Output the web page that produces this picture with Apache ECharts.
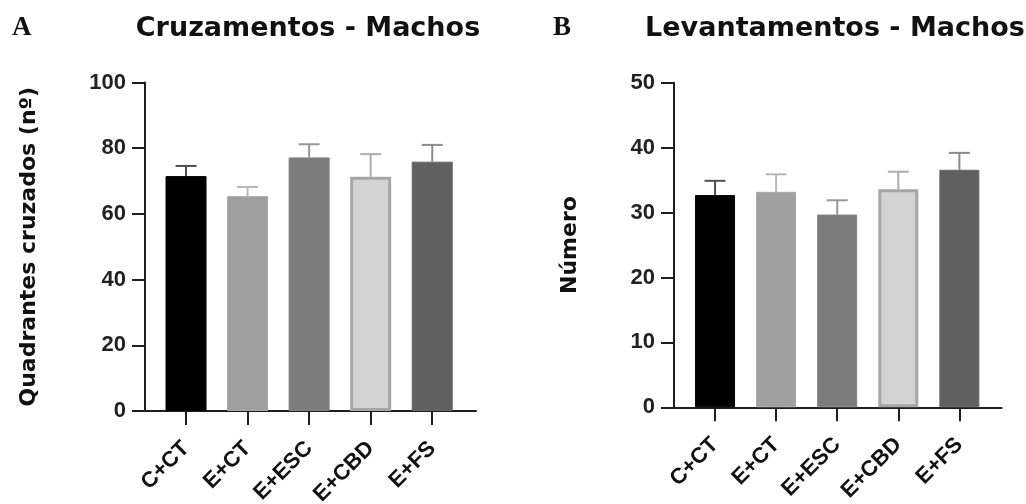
<!DOCTYPE html>
<html>
<head>
<meta charset="utf-8">
<script src="https://cdn.jsdelivr.net/npm/echarts@6/dist/echarts.min.js"></script>
<style>
  html, body { margin: 0; padding: 0; background: #ffffff; }
  #chart { width: 1026px; height: 504px; }
</style>
</head>
<body>
<div id="chart"></div>
<script>
// ---- Data ----
const categories = ['C+CT', 'E+CT', 'E+ESC', 'E+CBD', 'E+FS'];
const crossMean  = [71.5, 65.4, 77.2, 71.3, 75.9];
const crossUpper = [74.6, 68.2, 81.2, 78.2, 81.0];
const rearMean   = [32.7, 33.2, 29.7, 33.6, 36.6];
const rearUpper  = [34.9, 35.9, 31.9, 36.3, 39.2];
const titleA = 'Cruzamentos - Machos';
const titleB = 'Levantamentos - Machos';
const yNameA = 'Quadrantes cruzados (nº)';
const yNameB = 'Número';

// ---- Styles ----
const barFill   = ['#000000', '#a0a0a0', '#7c7c7c', '#d3d3d3', '#606060'];
const barBorder = ['#000000', '#a6a6a6', '#828282', '#a6a6a6', '#666666'];
const barBorderW = [1, 1, 1, 3, 1];
const errColor  = ['#505050', '#b6b6b6', '#979797', '#adadad', '#8b8b8b'];
const axisColor = '#1e1e1e';
const sansBold = 'DejaVu Sans';
const tickFont = 'Liberation Sans';

function barData(means) {
  return means.map((v, i) => ({
    value: v,
    itemStyle: { color: barFill[i], borderColor: barBorder[i], borderWidth: barBorderW[i] }
  }));
}
function errData(means, uppers) {
  return means.map((v, i) => [i, v, uppers[i]]);
}
function renderErr(params, api) {
  const x = api.value(0);
  const lo = api.coord([x, api.value(1)]);
  const hi = api.coord([x, api.value(2)]);
  const c = errColor[params.dataIndex];
  return {
    type: 'group',
    children: [
      { type: 'line', shape: { x1: lo[0], y1: lo[1], x2: hi[0], y2: hi[1] }, style: { stroke: c, lineWidth: 2 } },
      { type: 'line', shape: { x1: hi[0] - 10.5, y1: hi[1], x2: hi[0] + 10.5, y2: hi[1] }, style: { stroke: c, lineWidth: 2 } }
    ]
  };
}

function frameAxes(gridIdx, max, interval, name, nameGap) {
  return {
    x: {
      type: 'category', gridIndex: gridIdx, data: categories,
      axisLine: { show: true, lineStyle: { color: axisColor, width: 2 } },
      axisTick: { show: false }, axisLabel: { show: false }, splitLine: { show: false }
    },
    y: {
      type: 'value', gridIndex: gridIdx, min: 0, max: max, interval: interval,
      name: name, nameLocation: 'middle', nameRotate: 90, nameGap: nameGap,
      nameTextStyle: { fontFamily: sansBold, fontWeight: 'bold', fontSize: 22, color: '#111' },
      axisLine: { show: true, lineStyle: { color: axisColor, width: 2 } },
      axisTick: { show: true, inside: false, length: 13, lineStyle: { color: axisColor, width: 2 } },
      axisLabel: { fontFamily: tickFont, fontWeight: 'bold', fontSize: 22, color: '#222', margin: 19 },
      splitLine: { show: false }
    }
  };
}
function barAxes(gridIdx, max) {
  return {
    x: {
      type: 'category', gridIndex: gridIdx, data: categories,
      axisLine: { show: true, lineStyle: { color: 'rgba(0,0,0,0)', width: 0 } },
      axisTick: { show: true, inside: false, alignWithLabel: true, length: 14, lineStyle: { color: axisColor, width: 2 } },
      axisLabel: { rotate: 45, margin: 34, fontFamily: tickFont, fontWeight: 'bold', fontSize: 22, color: '#111' },
      splitLine: { show: false }
    },
    y: { type: 'value', gridIndex: gridIdx, min: 0, max: max, show: false, splitLine: { show: false } }
  };
}

const fA = frameAxes(0, 100, 20, yNameA, 105);
const bA = barAxes(1, 100);
const fB = frameAxes(2, 50, 10, yNameB, 93);
const bB = barAxes(3, 50);

const chart = echarts.init(document.getElementById('chart'), null, { renderer: 'canvas' });
chart.setOption({
  backgroundColor: '#ffffff',
  animation: false,
  title: [
    { text: 'A', left: 12, top: 15, padding: 0,
      textStyle: { fontFamily: 'Liberation Serif', fontWeight: 'bold', fontSize: 27, color: '#111' } },
    { text: titleA, left: 308, top: 15, padding: 0, textAlign: 'center',
      textStyle: { fontFamily: sansBold, fontWeight: 'bold', fontSize: 27, color: '#111' } },
    { text: 'B', left: 553, top: 15, padding: 0,
      textStyle: { fontFamily: 'Liberation Serif', fontWeight: 'bold', fontSize: 27, color: '#111' } },
    { text: titleB, left: 835, top: 15, padding: 0, textAlign: 'center',
      textStyle: { fontFamily: sansBold, fontWeight: 'bold', fontSize: 27, color: '#111' } }
  ],
  grid: [
    { left: 145, top: 82.5, width: 331, height: 328.5, containLabel: false, outerBoundsMode: 'none' },
    { left: 155.25, top: 82.5, width: 307.75, height: 328.5, containLabel: false, outerBoundsMode: 'none' },
    { left: 674, top: 82.8, width: 327.7, height: 324.5, containLabel: false, outerBoundsMode: 'none' },
    { left: 684.5, top: 82.8, width: 305.4, height: 324.5, containLabel: false, outerBoundsMode: 'none' }
  ],
  xAxis: [fA.x, bA.x, fB.x, bB.x],
  yAxis: [fA.y, bA.y, fB.y, bB.y],
  series: [
    { type: 'custom', xAxisIndex: 1, yAxisIndex: 1, z: 1, renderItem: renderErr, data: errData(crossMean, crossUpper) },
    { type: 'bar', xAxisIndex: 1, yAxisIndex: 1, z: 2, barWidth: 41, data: barData(crossMean) },
    { type: 'custom', xAxisIndex: 3, yAxisIndex: 3, z: 1, renderItem: renderErr, data: errData(rearMean, rearUpper) },
    { type: 'bar', xAxisIndex: 3, yAxisIndex: 3, z: 2, barWidth: 40, data: barData(rearMean) }
  ]
});
</script>
</body>
</html>
